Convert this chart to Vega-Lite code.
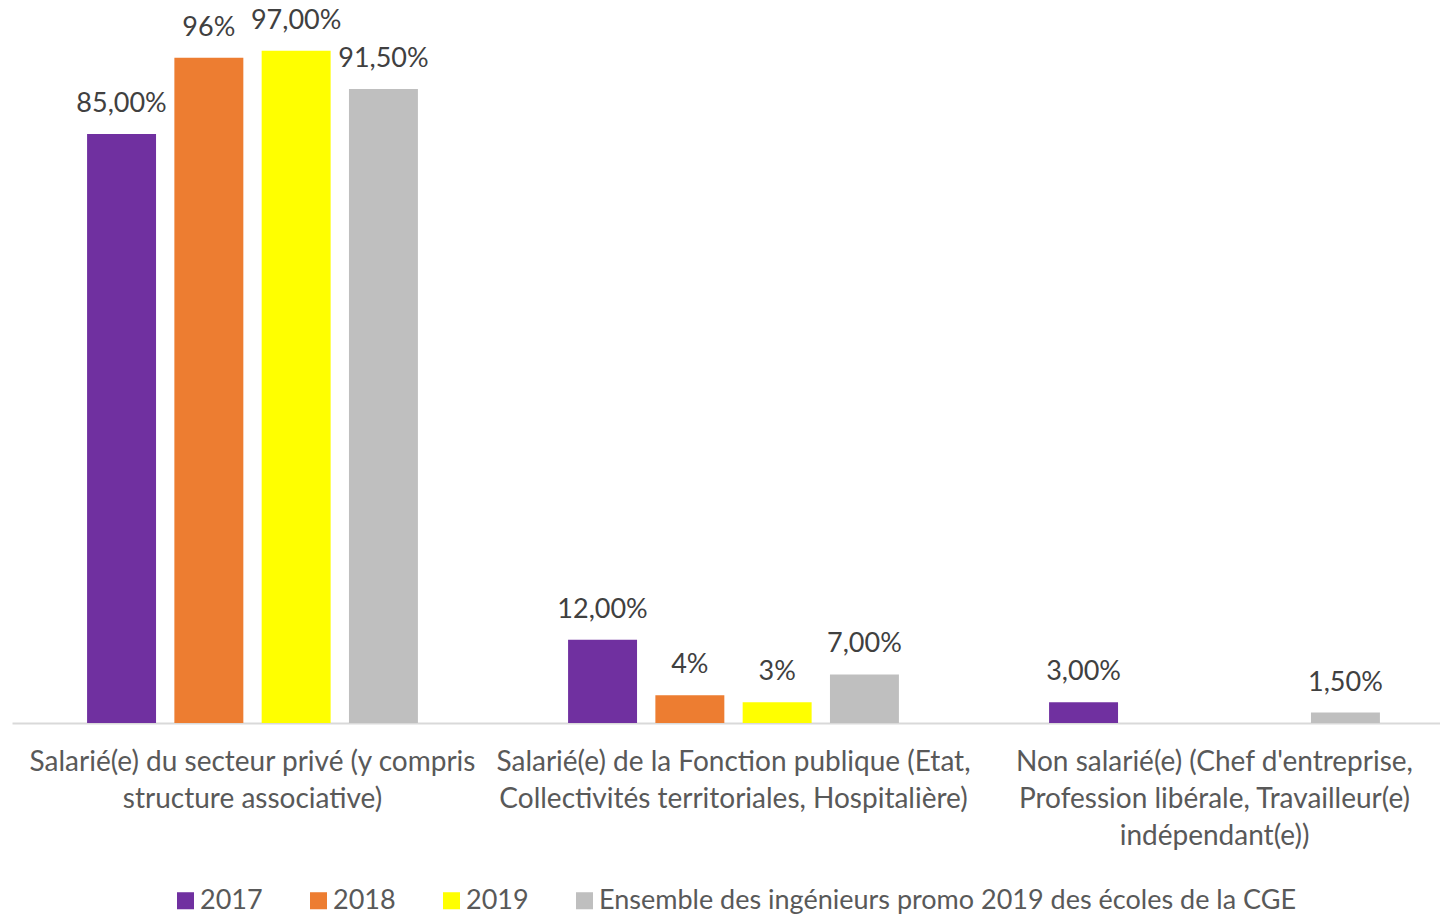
{
  "$schema": "https://vega.github.io/schema/vega-lite/v6.json",
  "width": 1428,
  "height": 693,
  "autosize": {"type": "none"},
  "padding": {"left": 12, "top": 30, "right": 0, "bottom": 193},
  "background": "white",
  "config": {
    "view": {"stroke": null},
    "font": "Lato"
  },
  "data": {
    "values": [
      {"categorie": "Salarié(e) du secteur privé (y compris\nstructure associative)", "serie": "2017", "valeur": 0.85, "etiquette": "85,00%"},
      {"categorie": "Salarié(e) du secteur privé (y compris\nstructure associative)", "serie": "2018", "valeur": 0.96, "etiquette": "96%"},
      {"categorie": "Salarié(e) du secteur privé (y compris\nstructure associative)", "serie": "2019", "valeur": 0.97, "etiquette": "97,00%"},
      {"categorie": "Salarié(e) du secteur privé (y compris\nstructure associative)", "serie": "Ensemble des ingénieurs promo 2019 des écoles de la CGE", "valeur": 0.915, "etiquette": "91,50%"},
      {"categorie": "Salarié(e) de la Fonction publique (Etat,\nCollectivités territoriales, Hospitalière)", "serie": "2017", "valeur": 0.12, "etiquette": "12,00%"},
      {"categorie": "Salarié(e) de la Fonction publique (Etat,\nCollectivités territoriales, Hospitalière)", "serie": "2018", "valeur": 0.04, "etiquette": "4%"},
      {"categorie": "Salarié(e) de la Fonction publique (Etat,\nCollectivités territoriales, Hospitalière)", "serie": "2019", "valeur": 0.03, "etiquette": "3%"},
      {"categorie": "Salarié(e) de la Fonction publique (Etat,\nCollectivités territoriales, Hospitalière)", "serie": "Ensemble des ingénieurs promo 2019 des écoles de la CGE", "valeur": 0.07, "etiquette": "7,00%"},
      {"categorie": "Non salarié(e) (Chef d'entreprise,\nProfession libérale, Travailleur(e)\nindépendant(e))", "serie": "2017", "valeur": 0.03, "etiquette": "3,00%"},
      {"categorie": "Non salarié(e) (Chef d'entreprise,\nProfession libérale, Travailleur(e)\nindépendant(e))", "serie": "Ensemble des ingénieurs promo 2019 des écoles de la CGE", "valeur": 0.015, "etiquette": "1,50%"}
    ]
  },
  "encoding": {
    "x": {
      "field": "categorie",
      "type": "nominal",
      "sort": null,
      "scale": {"range": [0, 1443], "paddingInner": 0, "paddingOuter": 0},
      "axis": {
        "title": null,
        "labelAngle": 0,
        "labelExpr": "split(datum.label, '\\n')",
        "labelFontSize": 28,
        "labelColor": "#595959",
        "labelLineHeight": 37,
        "labelPadding": 25,
        "labelLimit": 0,
        "ticks": false,
        "tickSize": 0,
        "domainColor": "#D9D9D9",
        "domainWidth": 2,
        "grid": false
      }
    },
    "xOffset": {
      "field": "serie",
      "type": "nominal",
      "scale": {
        "domain": ["2017", "2018", "2019", "Ensemble des ingénieurs promo 2019 des écoles de la CGE"],
        "paddingInner": 0.21,
        "paddingOuter": 0.86
      }
    },
    "y": {
      "field": "valeur",
      "type": "quantitative",
      "scale": {"domain": [0, 1], "nice": false},
      "axis": null
    }
  },
  "layer": [
    {
      "mark": {"type": "bar"},
      "encoding": {
        "color": {
          "field": "serie",
          "type": "nominal",
          "scale": {
            "domain": ["2017", "2018", "2019", "Ensemble des ingénieurs promo 2019 des écoles de la CGE"],
            "range": ["#7030A0", "#ED7D31", "#FFFF00", "#BFBFBF"]
          },
          "legend": {
            "title": null,
            "orient": "none",
            "direction": "horizontal",
            "legendX": 160,
            "legendY": 857,
            "symbolType": "square",
            "symbolSize": 290,
            "symbolStrokeWidth": 0,
            "labelFontSize": 27,
            "labelColor": "#595959",
            "labelOffset": 1,
            "columnPadding": 42,
            "labelLimit": 0,
            "padding": 0
          }
        }
      }
    },
    {
      "mark": {"type": "text", "baseline": "alphabetic", "dy": -22, "fontSize": 27, "color": "#404040"},
      "encoding": {
        "text": {"field": "etiquette"}
      }
    }
  ]
}
